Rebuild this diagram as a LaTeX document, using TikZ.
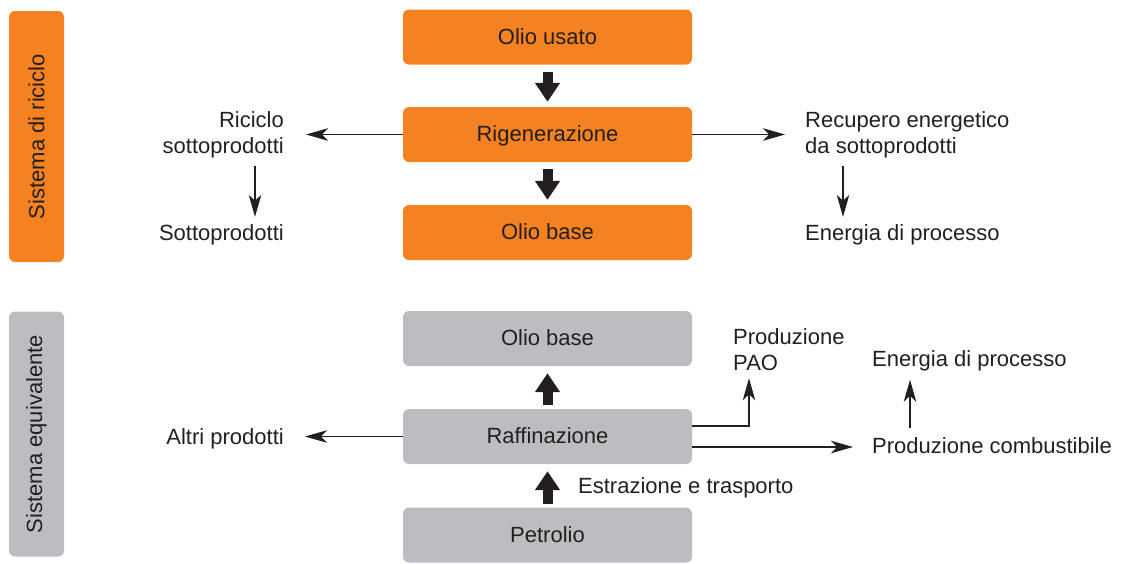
\documentclass[tikz,border=0pt]{standalone}
\usepackage{fontspec}
\setmainfont{Liberation Sans}
\usetikzlibrary{arrows.meta,calc}
\definecolor{org}{HTML}{F58220}
\definecolor{gry}{HTML}{BCBDC0}
\definecolor{ink}{HTML}{231F20}
\begin{document}
\begin{tikzpicture}[x=1pt,y=-1pt,
  txt/.style={text=ink, inner sep=0pt, font=\fontsize{22}{26}\selectfont},
  box/.style={txt, rounded corners=6pt, minimum width=289pt, minimum height=55pt, text height=19pt, text depth=4.5pt},
  obox/.style={box, fill=org},
  gbox/.style={box, fill=gry},
  side/.style={rounded corners=6pt, minimum width=55pt, inner sep=0pt},
  thinarr/.style={draw=ink, line width=1.1pt, -{Stealth[length=22pt,width=12.5pt,inset=6pt]}},
  fatarr/.style={draw=ink, fill=ink, line width=10pt, -{Triangle[length=19pt,width=24pt]}}]
\useasboundingbox (0,0) rectangle (1123,563);

% side bars
\node[side, fill=org, minimum height=251pt] (sr) at (36.5,136.5) {};
\node[txt, rotate=90] (srt) at (sr.center) {Sistema di riciclo};
\node[side, fill=gry, minimum height=245pt] (se) at (36.5,434) {};
\node[txt, rotate=90] (set) at (se.center) {Sistema equivalente};

% orange system
\node[obox] (ou) at (547.5,37) {Olio usato};
\node[obox] (rg) at (547.5,134.5) {Rigenerazione};
\node[obox] (ob1) at (547.5,232.5) {Olio base};

\node[txt, align=right, anchor=east] (ric) at (284,135) {Riciclo\\sottoprodotti};
\node[txt, anchor=base east] (sot) at (284,240) {Sottoprodotti};
\node[txt, align=left, anchor=west] (rec) at (805,135) {Recupero energetico\\da sottoprodotti};
\node[txt, anchor=base west] (en1) at (805,240) {Energia di processo};

\draw[fatarr] ($(ou.south)+(0,7)$) -- ($(rg.north)+(0,-5)$);
\draw[fatarr] ($(rg.south)+(0,7)$) -- ($(ob1.north)+(0,-5)$);

\draw[thinarr] (rg.west) -- ($(ric.east |- rg.west)+(22,0)$);
\draw[thinarr] (rg.east) -- ($(rec.west |- rg.east)+(-20,0)$);

\coordinate (xl) at (255,0);
\coordinate (xr) at (843,0);
\draw[thinarr] ($(ric.south -| xl)+(0,8)$) -- ($(sot.north -| xl)+(0,-7)$);
\draw[thinarr] ($(rec.south -| xr)+(0,8)$) -- ($(en1.north -| xr)+(0,-7)$);

% gray system
\node[gbox] (ob2) at (547.5,338.5) {Olio base};
\node[gbox] (raf) at (547.5,436.5) {Raffinazione};
\node[gbox] (pet) at (547.5,535) {Petrolio};

\node[txt, anchor=base east] (alt) at (284,444) {Altri prodotti};
\node[txt, align=left, anchor=west] (pao) at (733,350) {Produzione\\PAO};
\node[txt, anchor=base west] (en2) at (872,366) {Energia di processo};
\node[txt, anchor=base west] (comb) at (872,453) {Produzione combustibile};
\node[txt, anchor=base west] (est) at (578,493) {Estrazione e trasporto};

\draw[fatarr] ($(raf.north)+(0,-4)$) -- ($(ob2.south)+(0,7)$);
\draw[fatarr] ($(pet.north)+(0,-3)$) -- ($(raf.south)+(0,7)$);

\draw[thinarr] (raf.west) -- ($(alt.east |- raf.west)+(21,0)$);
\coordinate (pk) at (749,426);
\draw[thinarr] (raf.east |- pk) -- (pk) -- ($(pk |- pao.south)+(0,7)$);
\coordinate (cy) at (0,447);
\draw[thinarr] (raf.east |- cy) -- ($(comb.west |- cy)+(-19,0)$);
\coordinate (xu) at (910,0);
\draw[thinarr] ($(comb.north -| xu)+(0,-9)$) -- ($(en2.south -| xu)+(0,9)$);
\end{tikzpicture}
\end{document}
